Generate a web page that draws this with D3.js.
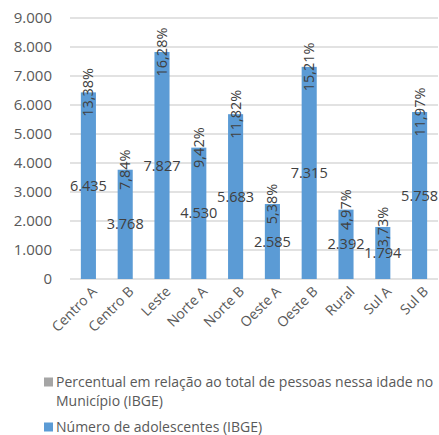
<!DOCTYPE html>
<html>
<head>
<meta charset="utf-8">
<script src="https://cdn.jsdelivr.net/npm/d3@7"></script>
<style>
  body { margin: 0; background: #fff; }
  svg text { font-family: "Open Sans", "Liberation Sans", sans-serif; }
</style>
</head>
<body>
<svg id="chart" width="439" height="435"></svg>
<script>
// Data
var regioes = ["Centro A", "Centro B", "Leste", "Norte A", "Norte B", "Oeste A", "Oeste B", "Rural", "Sul A", "Sul B"];
var adolescentes = [6435, 3768, 7827, 4530, 5683, 2585, 7315, 2392, 1794, 5758];
var percentual = [13.38, 7.84, 16.28, 9.42, 11.82, 5.38, 15.21, 4.97, 3.73, 11.97];
var yTicks = [0, 1000, 2000, 3000, 4000, 5000, 6000, 7000, 8000, 9000];
var legendas = [
  ["Percentual em relação ao total de pessoas nessa idade no", "Município (IBGE)"],
  ["Número de adolescentes (IBGE)"]
];

var fmtNum = function (v) { return d3.format(",")(v).replace(/,/g, "."); };
var fmtPct = function (v) { return v.toFixed(2).replace(".", ",") + "%"; };

var svg = d3.select("#chart");
var margin_left = 70, plot_right = 438, y_top = 18, y_bottom = 279;

var x = d3.scaleBand().domain(regioes).range([margin_left, plot_right]).paddingInner(0.59).paddingOuter(0.295);
var y = d3.scaleLinear().domain([0, 9000]).range([y_bottom, y_top]);

// Gridlines
svg.append("g").selectAll("line")
  .data(yTicks).enter().append("line")
  .attr("x1", margin_left).attr("x2", plot_right)
  .attr("y1", function (d) { return y(d); }).attr("y2", function (d) { return y(d); })
  .style("stroke", "#d9d9d9").style("stroke-width", 1.3);

// Y axis labels
var yaxis = svg.append("g")
  .attr("transform", "translate(" + (margin_left - 18) + ",0)")
  .call(d3.axisLeft(y).tickValues(yTicks).tickSize(0).tickPadding(0).tickFormat(fmtNum));
yaxis.select(".domain").remove();
yaxis.selectAll("text").style("font-size", "15px").style("fill", "#595959")
  .style("font-family", "'Open Sans', 'Liberation Sans', sans-serif");

// Bars
svg.append("g").selectAll("rect")
  .data(regioes).enter().append("rect")
  .attr("x", function (d) { return x(d); })
  .attr("width", x.bandwidth())
  .attr("y", function (d, i) { return y(adolescentes[i]); })
  .attr("height", function (d, i) { return y(0) - y(adolescentes[i]); })
  .style("fill", "#5b9bd5");

// Value labels (middle of bar)
svg.append("g").selectAll("text")
  .data(regioes).enter().append("text")
  .attr("x", function (d) { return x(d) + x.bandwidth() / 2; })
  .attr("y", function (d, i) { return y(adolescentes[i] / 2); })
  .attr("dy", "0.35em")
  .attr("text-anchor", "middle")
  .style("font-size", "14.5px").style("fill", "#404040")
  .text(function (d, i) { return fmtNum(adolescentes[i]); });

// Percent labels (rotated, centred on bar top)
svg.append("g").selectAll("text")
  .data(regioes).enter().append("text")
  .attr("transform", function (d, i) {
    return "translate(" + (x(d) + x.bandwidth() / 2) + "," + y(adolescentes[i]) + ") rotate(-90)";
  })
  .attr("dy", "0.35em")
  .attr("text-anchor", "middle")
  .style("font-size", "14.5px").style("fill", "#404040")
  .text(function (d, i) { return fmtPct(percentual[i]); });

// X axis labels
svg.append("g").selectAll("text")
  .data(regioes).enter().append("text")
  .attr("transform", function (d) {
    return "translate(" + (x(d) + x.bandwidth() / 2 + 6) + "," + (y_bottom + 10) + ") rotate(-45)";
  })
  .attr("text-anchor", "end")
  .attr("dy", "0.35em")
  .style("font-size", "14px").style("fill", "#595959")
  .text(function (d) { return d; });

// Legend
var cores = ["#a5a5a5", "#5b9bd5"];
var legY = [382, 427];
var leg = svg.append("g");
legendas.forEach(function (linhas, k) {
  leg.append("rect")
    .attr("x", 44).attr("y", legY[k] - 4.5)
    .attr("width", 9).attr("height", 9)
    .style("fill", cores[k]);
  linhas.forEach(function (t, j) {
    leg.append("text")
      .attr("x", 56).attr("y", legY[k] + j * 19)
      .attr("dy", "0.35em")
      .style("font-size", "14px").style("fill", "#595959")
      .text(t);
  });
});
</script>
</body>
</html>
